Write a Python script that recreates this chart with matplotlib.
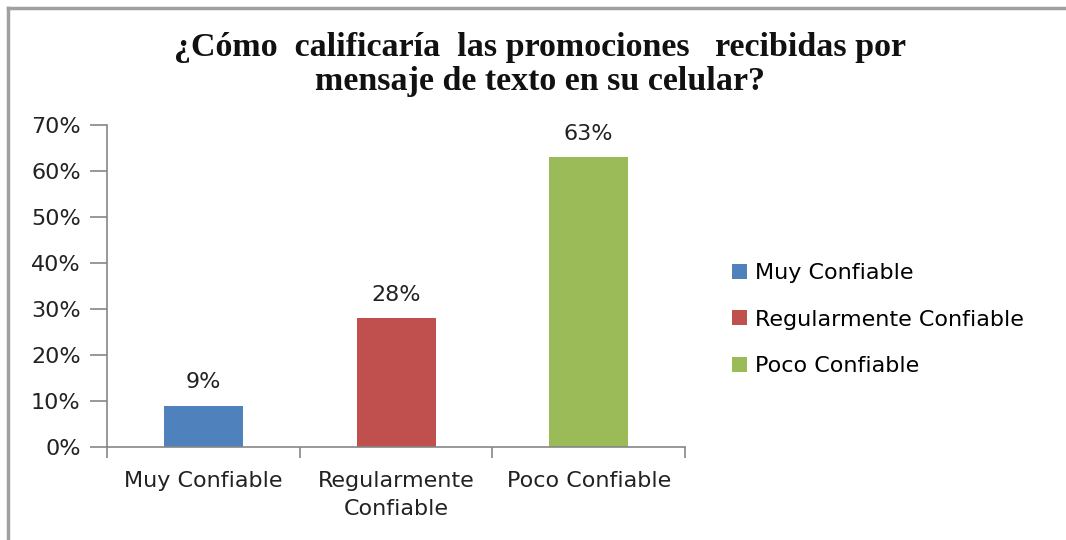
import matplotlib.pyplot as plt
from matplotlib.lines import Line2D
from matplotlib.patches import Patch

categories = ["Muy Confiable", "Regularmente Confiable", "Poco Confiable"]
tick_labels = ["Muy Confiable", "Regularmente\nConfiable", "Poco Confiable"]
values = [9, 28, 63]
colors = ["#4F81BD", "#C0504D", "#9BBB59"]
y_ticks = [0, 10, 20, 30, 40, 50, 60, 70]

sans = "DejaVu Sans"
fs = 16
txt = "#222222"
fig = plt.figure(figsize=(10.66, 5.4), dpi=100)
ax = fig.add_axes([0.1004, 0.1722, 0.5422, 0.5963])

x = range(len(values))
ax.bar(x, values, width=0.41, color=colors)
for i, v in enumerate(values):
    ax.annotate(f"{v}%", (i, v), xytext=(0, 17), textcoords="offset points",
                ha="center", va="center", fontsize=fs, family=sans, color=txt)

ax.set_xlim(-0.5, 2.5)
ax.set_ylim(0, 70)
ax.set_yticks(y_ticks)
ax.set_yticklabels([f"{t}%" for t in y_ticks], fontsize=fs, family=sans, color=txt)
ax.set_xticks([-0.5, 0.5, 1.5, 2.5])
ax.set_xticklabels([])
ax.set_xticks(list(x), minor=True)
ax.set_xticklabels(tick_labels, minor=True, fontsize=fs, family=sans, color=txt, linespacing=1.55)
ax.tick_params(axis="x", which="major", length=8, color="#868686", width=1.2)
ax.tick_params(axis="x", which="minor", length=0, pad=17)
ax.tick_params(axis="y", length=12, color="#868686", width=1.2, pad=7)
for s in ["top", "right"]:
    ax.spines[s].set_visible(False)
for s in ["left", "bottom"]:
    ax.spines[s].set_color("#868686")
    ax.spines[s].set_linewidth(1.2)

fig.text(0.507, 0.88, "¿Cómo  calificaría  las promociones   recibidas por\nmensaje de texto en su celular?",
         ha="center", va="center", fontsize=24.5, fontweight="bold", family="Liberation Serif",
         linespacing=1.13, color="#111111")

handles = [Patch(facecolor=c, edgecolor="none") for c in colors]
fig.legend(handles, categories, loc="center left", bbox_to_anchor=(0.668, 0.408),
           frameon=False, prop={"family": sans, "size": fs},
           handlelength=0.65, handleheight=0.65, handletextpad=0.4, labelspacing=1.2)

# outer border (top and left edges)
fig.add_artist(Line2D([0.0075, 1.0], [0.985, 0.985], color="#A0A0A0", lw=2.5, transform=fig.transFigure))
fig.add_artist(Line2D([0.0075, 0.0075], [0.0, 0.985], color="#A0A0A0", lw=2.5, transform=fig.transFigure))

fig.savefig("out.png", dpi=100)
